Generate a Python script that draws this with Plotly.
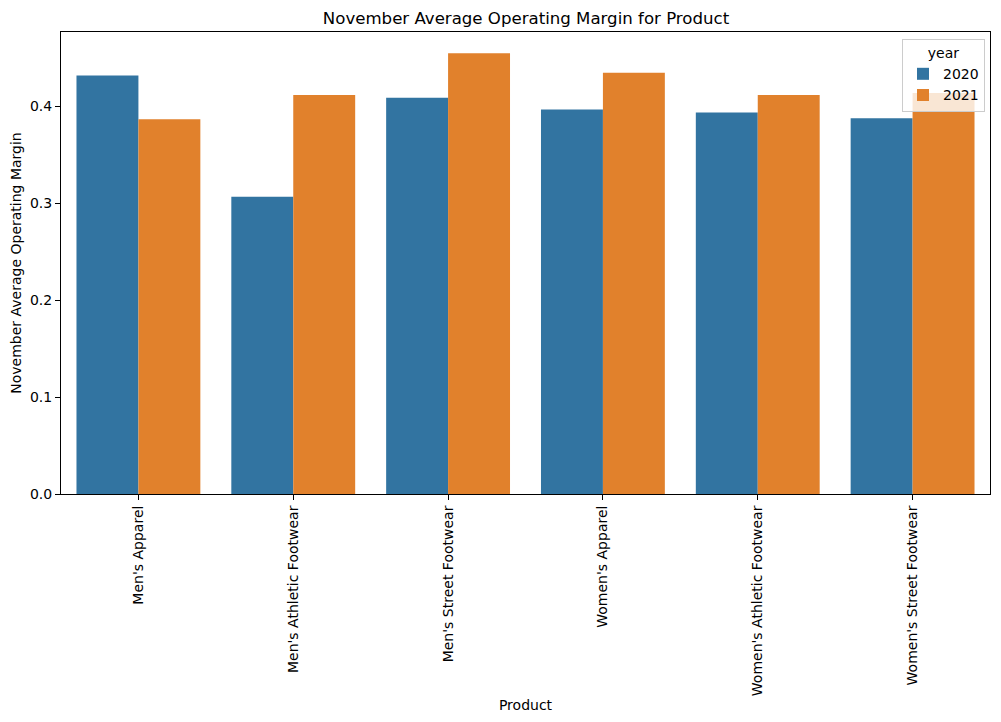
import plotly.graph_objects as go

products = ["Men's Apparel", "Men's Athletic Footwear", "Men's Street Footwear",
            "Women's Apparel", "Women's Athletic Footwear", "Women's Street Footwear"]
years = ["2020", "2021"]
margin_2020 = [0.432, 0.307, 0.409, 0.397, 0.394, 0.388]
margin_2021 = [0.387, 0.412, 0.455, 0.435, 0.412, 0.414]
colors = ["#3274a1", "#e1812c"]
y_ticks = [0.0, 0.1, 0.2, 0.3, 0.4]

fig = go.Figure()
for yr, vals, c in zip(years, [margin_2020, margin_2021], colors):
    fig.add_trace(go.Bar(x=products, y=vals, name=yr, marker_color=c,
                         marker_line_width=0))

font = "DejaVu Sans, sans-serif"
fs = 14
W, H = 993, 714
fig.update_layout(
    width=W, height=H,
    margin=dict(l=53, r=11, t=24, b=228),
    paper_bgcolor="white", plot_bgcolor="white",
    barmode="group", bargap=0.2, bargroupgap=0,
    font=dict(family=font, size=fs, color="black"),
    title=dict(text="November Average Operating Margin for Product",
               x=(526 - 8) / W, xanchor="center", y=1 - 10 / H, yanchor="middle",
               font=dict(size=16.6)),
    legend=dict(title=dict(text="year", side="top center", font=dict(size=fs)),
                x=1 - 5 / 929, y=1 - 7 / 462,
                xanchor="right", yanchor="top",
                bordercolor="#cccccc", borderwidth=1, bgcolor="rgba(255,255,255,0.8)",
                font=dict(size=fs)),
    xaxis=dict(title=dict(text="Product", standoff=4, font=dict(size=fs)),
               tickangle=-90, tickfont=dict(size=fs), automargin=False,
               showline=True, linecolor="black", linewidth=1, mirror=True,
               ticks="outside", ticklen=5, tickcolor="black", showgrid=False),
    yaxis=dict(title=dict(text="November Average Operating Margin", standoff=8,
                          font=dict(size=fs)),
               range=[0, 0.477], tickvals=y_ticks,
               ticktext=[f"{v:.1f}" for v in y_ticks],
               tickfont=dict(size=fs), automargin=False,
               showline=True, linecolor="black", linewidth=1, mirror=True,
               ticks="outside", ticklen=5, tickcolor="black",
               showgrid=False, zeroline=False),
)
fig.write_html("out.html")
